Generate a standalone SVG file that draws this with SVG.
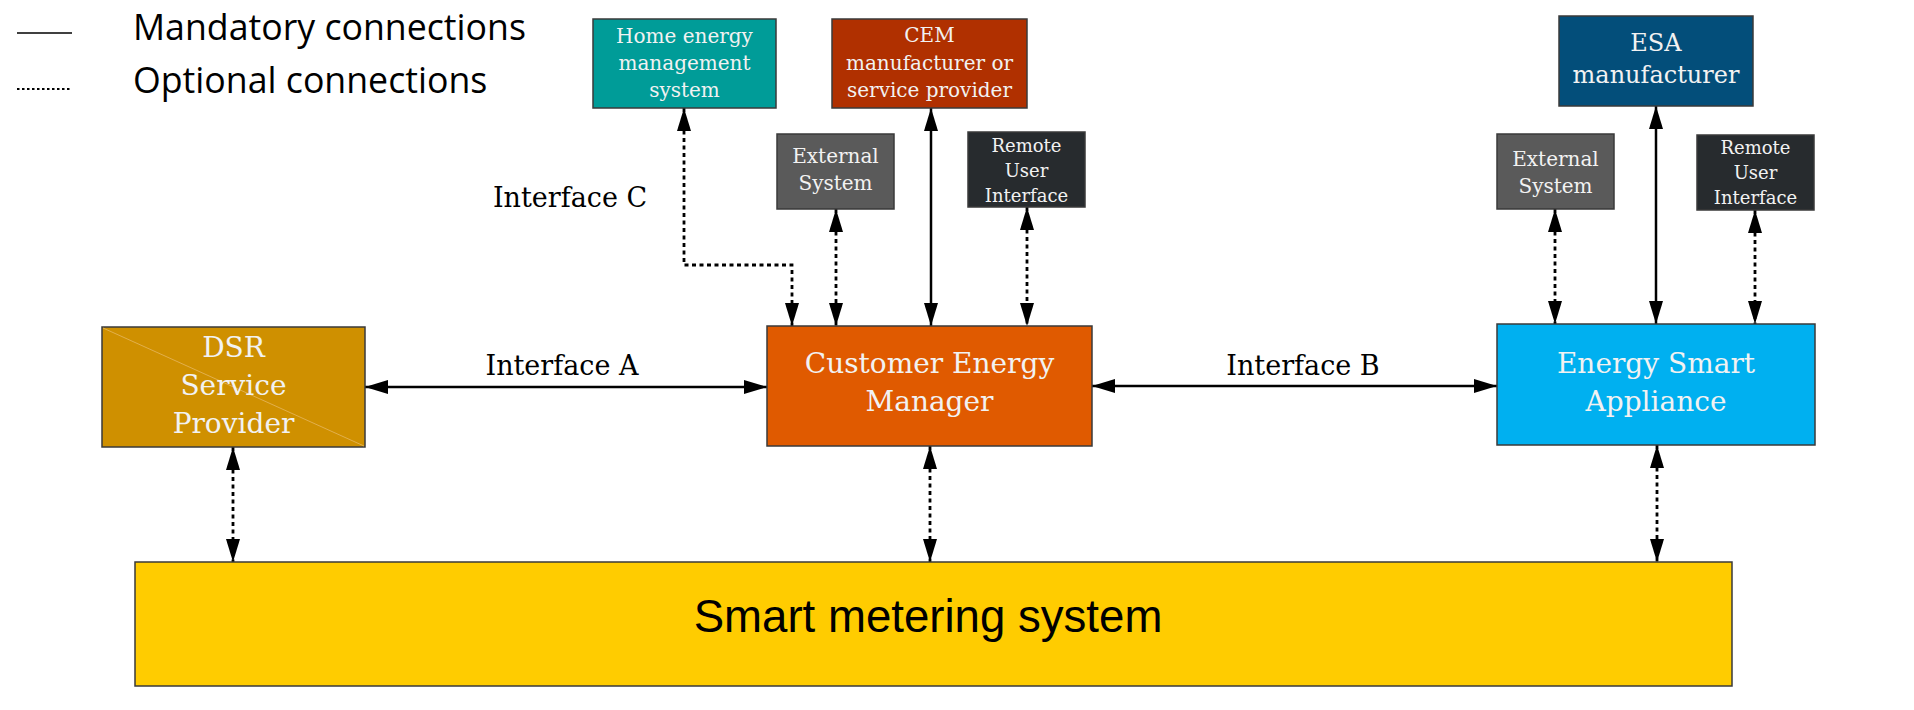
<svg xmlns="http://www.w3.org/2000/svg" width="1914" height="710" viewBox="0 0 1914 710">
<style>
.box{stroke:#3a3a3a;stroke-width:1.5}
.t{font-family:"DejaVu Serif","Liberation Serif",serif;fill:#f2f2f2;text-anchor:middle}
.lbl{font-family:"DejaVu Serif","Liberation Serif",serif;fill:#000;font-size:27px;text-anchor:middle}
.leg{font-family:"Open Sans","Noto Sans",sans-serif;font-size:35.7px;fill:#000}
.solid{fill:none;stroke:#000;stroke-width:2.5;marker-start:url(#ah);marker-end:url(#ah)}
.dot{fill:none;stroke:#000;stroke-width:2.8;stroke-dasharray:4 3.5;marker-start:url(#ah);marker-end:url(#ah)}
</style>
<defs>
<marker id="ah" markerUnits="userSpaceOnUse" markerWidth="24" markerHeight="15" refX="23" refY="7.5" orient="auto-start-reverse" viewBox="0 0 24 15">
<path d="M0,0.5 L23,7.5 L0,14.5 z" fill="#000"/>
</marker>
</defs>
<rect width="1914" height="710" fill="#fff"/>
<g id="legend">
<line x1="17" y1="33" x2="72" y2="33" stroke="#000" stroke-width="1.6"/>
<line x1="17" y1="89" x2="72" y2="89" stroke="#000" stroke-width="1.8" stroke-dasharray="2.5 2.5"/>
<text class="leg" x="133" y="40">Mandatory connections</text>
<text class="leg" x="133" y="93">Optional connections</text>
</g>
<g id="connectors">
<line class="solid" x1="365" y1="387" x2="767" y2="387"/>
<line class="solid" x1="1092" y1="386" x2="1497" y2="386"/>
<line class="solid" x1="931" y1="108" x2="931" y2="326"/>
<line class="dot" x1="836" y1="209" x2="836" y2="326"/>
<line class="dot" x1="1027" y1="207" x2="1027" y2="326"/>
<path class="dot" d="M684,108 L684,265 L792,265 L792,326"/>
<line class="solid" x1="1656" y1="106" x2="1656" y2="324"/>
<line class="dot" x1="1555" y1="209" x2="1555" y2="324"/>
<line class="dot" x1="1755" y1="210" x2="1755" y2="324"/>
<line class="dot" x1="233" y1="447" x2="233" y2="562"/>
<line class="dot" x1="930" y1="446" x2="930" y2="562"/>
<line class="dot" x1="1657" y1="445" x2="1657" y2="562"/>
<text class="lbl" x="562" y="375">Interface A</text>
<text class="lbl" x="1303" y="375">Interface B</text>
<text class="lbl" x="570" y="207">Interface C</text>
</g>
<g id="home">
<rect class="box" x="593" y="19" width="183" height="89" fill="#009C98"/>
<text class="t" font-size="20"><tspan x="684.5" y="43">Home energy</tspan><tspan x="684.5" y="70">management</tspan><tspan x="684.5" y="97">system</tspan></text>
</g>
<g id="cem-manufacturer">
<rect class="box" x="832" y="19" width="195" height="89" fill="#B03000"/>
<text class="t" font-size="20"><tspan x="929.5" y="42">CEM</tspan><tspan x="929.5" y="70">manufacturer or</tspan><tspan x="929.5" y="97">service provider</tspan></text>
</g>
<g id="cem-external">
<rect class="box" x="777" y="134" width="117" height="75" fill="#5A5A5A"/>
<text class="t" font-size="20"><tspan x="835.5" y="163">External</tspan><tspan x="835.5" y="190">System</tspan></text>
</g>
<g id="cem-remote">
<rect class="box" x="968" y="132" width="117" height="75" fill="#272B2E"/>
<text class="t" font-size="18"><tspan x="1026.5" y="152">Remote</tspan><tspan x="1026.5" y="177">User</tspan><tspan x="1026.5" y="202">Interface</tspan></text>
</g>
<g id="esa-manufacturer">
<rect class="box" x="1559" y="16" width="194" height="90" fill="#034E7A"/>
<text class="t" font-size="24"><tspan x="1656" y="51">ESA</tspan><tspan x="1656" y="83">manufacturer</tspan></text>
</g>
<g id="esa-external">
<rect class="box" x="1497" y="134" width="117" height="75" fill="#5A5A5A"/>
<text class="t" font-size="20"><tspan x="1555.5" y="166">External</tspan><tspan x="1555.5" y="193">System</tspan></text>
</g>
<g id="esa-remote">
<rect class="box" x="1697" y="135" width="117" height="75" fill="#272B2E"/>
<text class="t" font-size="18"><tspan x="1755.5" y="154">Remote</tspan><tspan x="1755.5" y="179">User</tspan><tspan x="1755.5" y="204">Interface</tspan></text>
</g>
<g id="dsr">
<rect class="box" x="102" y="327" width="263" height="120" fill="#CF9000" stroke="#3a2a10"/>
<line x1="103" y1="328" x2="364" y2="446" stroke="#E6B860" stroke-width="0.8"/>
<text class="t" font-size="28"><tspan x="233.5" y="357">DSR</tspan><tspan x="233.5" y="395">Service</tspan><tspan x="233.5" y="433">Provider</tspan></text>
</g>
<g id="cem">
<rect class="box" x="767" y="326" width="325" height="120" fill="#E05A00" stroke="#555"/>
<text class="t" font-size="28"><tspan x="929.5" y="373">Customer Energy</tspan><tspan x="929.5" y="411">Manager</tspan></text>
</g>
<g id="esa">
<rect class="box" x="1497" y="324" width="318" height="121" fill="#00B0F0" stroke="#2a5f7a"/>
<text class="t" font-size="28"><tspan x="1656" y="373">Energy Smart</tspan><tspan x="1656" y="411">Appliance</tspan></text>
</g>
<g id="smart-metering">
<rect class="box" x="135" y="562" width="1597" height="124" fill="#FFCC00" stroke="#555"/>
<text x="928" y="632" font-family="Liberation Sans, Arial, sans-serif" font-size="45.6" fill="#000" text-anchor="middle">Smart metering system</text>
</g>
</svg>
